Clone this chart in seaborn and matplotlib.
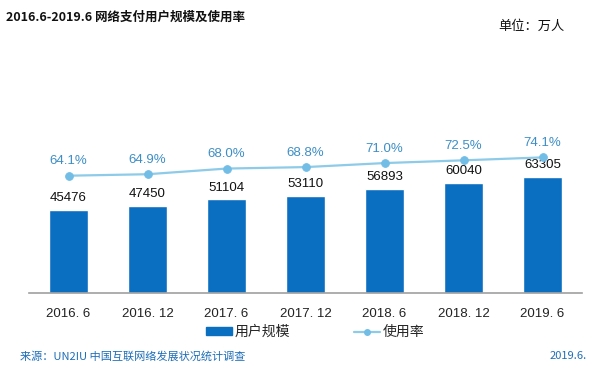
import matplotlib
matplotlib.use("Agg")
import matplotlib.pyplot as plt
import numpy as np
import seaborn as sns
from matplotlib.lines import Line2D
from matplotlib.patches import Patch

periods = ["2016. 6", "2016. 12", "2017. 6", "2017. 12", "2018. 6", "2018. 12", "2019. 6"]
users = [45476, 47450, 51104, 53110, 56893, 60040, 63305]
rate = [64.1, 64.9, 68.0, 68.8, 71.0, 72.5, 74.1]

BAR_COLOR = "#0B6FC1"
LINE_COLOR = "#8DCBE8"
MARKER_COLOR = "#72BDE6"
RATE_TEXT = "#3D8EC6"
SOURCE_COLOR = "#1F6FB8"

sns.set_style("white")
plt.rcParams["font.family"] = ["Liberation Sans", "Noto Sans CJK SC", "DejaVu Sans"]

W, H = 597, 377
fig = plt.figure(figsize=(W / 100, H / 100), dpi=100)
ax = fig.add_axes([29 / W, 1 - 293 / H, (582 - 29) / W, (293 - 110) / H])

x = np.arange(len(periods))
sns.barplot(x=periods, y=users, color=BAR_COLOR, width=0.5, saturation=1, ax=ax)
ax.set_ylim(0, 100000)
ax.set_xlim(-0.5, len(periods) - 0.5)
for i, v in enumerate(users):
    ax.text(i, v + 3200, str(v), ha="center", va="bottom", fontsize=9.5, color="#111111")

ax2 = ax.twinx()
sns.lineplot(x=x, y=rate, ax=ax2, color=LINE_COLOR, linewidth=1.6, marker="o",
             markersize=5.5, markerfacecolor=MARKER_COLOR, markeredgecolor=MARKER_COLOR)
ax2.set_ylim(0, 100)
for i, r in enumerate(rate):
    ax2.text(i, r + 4.5, f"{r:.1f}%", ha="center", va="bottom", fontsize=9.5, color=RATE_TEXT)

for a in (ax, ax2):
    a.set_yticks([])
    a.set_ylabel("")
    for s in ("top", "left", "right"):
        a.spines[s].set_visible(False)
ax2.spines["bottom"].set_visible(False)
ax.spines["bottom"].set_color("#A0A0A0")
ax.spines["bottom"].set_linewidth(1.2)
ax.tick_params(axis="x", length=0, pad=11, labelsize=9.5, labelcolor="#222222")

handles = [
    Patch(facecolor=BAR_COLOR, edgecolor=BAR_COLOR),
    Line2D([0], [0], color=LINE_COLOR, linewidth=1.6, marker="o", markersize=4,
           markerfacecolor=MARKER_COLOR, markeredgecolor=MARKER_COLOR),
]
fig.legend(handles, ["用户规模", "使用率"], loc="center", bbox_to_anchor=(315 / W, 1 - 332 / H),
           ncol=2, frameon=False, handlelength=1.9, handleheight=0.5,
           columnspacing=4.6, handletextpad=0.15,
           prop={"family": ["Noto Sans CJK SC"], "size": 10})

fig.text(6 / W, 1 - 17 / H, "2016.6-2019.6 网络支付用户规模及使用率", ha="left", va="center",
         fontsize=9, fontweight="bold", family=["Noto Sans CJK SC"], color="#111111")
fig.text(565 / W, 1 - 26 / H, "单位：万人", ha="right", va="center",
         fontsize=9.5, family=["Noto Sans CJK SC"], color="#111111")
fig.text(20 / W, 1 - 356 / H, "来源：UN2IU 中国互联网络发展状况统计调查", ha="left", va="center",
         fontsize=8, family=["Noto Sans CJK SC"], color=SOURCE_COLOR)
fig.text(587 / W, 1 - 356 / H, "2019.6.", ha="right", va="center",
         fontsize=8, family=["Noto Sans CJK SC"], color=SOURCE_COLOR)

fig.savefig("out.png", dpi=100)
